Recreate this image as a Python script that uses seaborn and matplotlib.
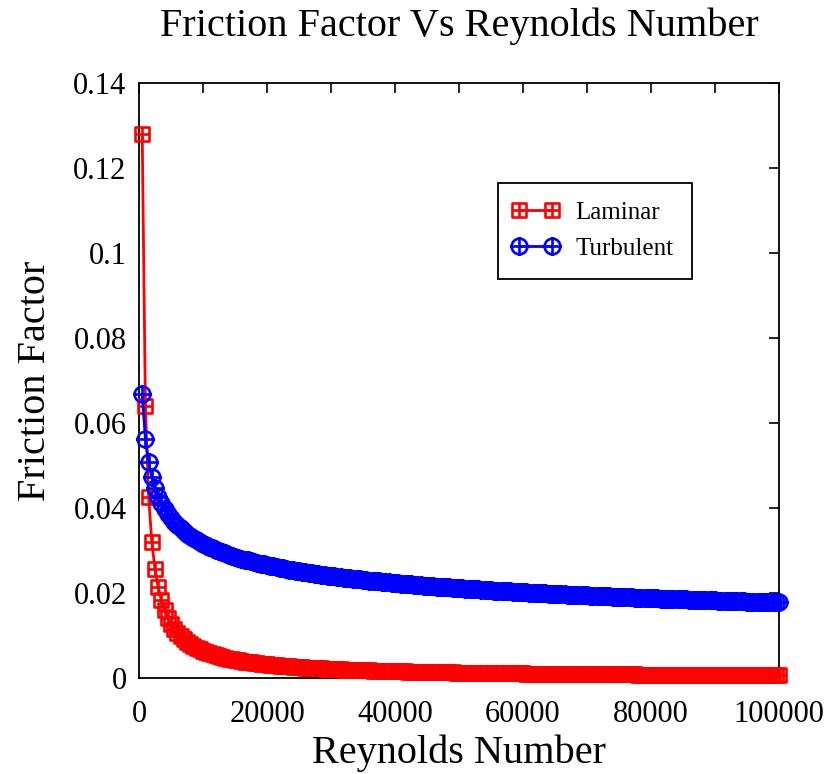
import numpy as np
import pandas as pd
import matplotlib
matplotlib.use("Agg")
import matplotlib.pyplot as plt
import seaborn as sns
from matplotlib.path import Path
from matplotlib.lines import Line2D
from matplotlib.legend_handler import HandlerLine2D

# ---- data ----
reynolds = list(range(500, 100001, 500))

laminar = [
    0.12800, 0.06400, 0.04267, 0.03200, 0.02560, 0.02133, 0.01829, 0.01600, 0.01422, 0.01280,
    0.01164, 0.01067, 0.00985, 0.00914, 0.00853, 0.00800, 0.00753, 0.00711, 0.00674, 0.00640,
    0.00610, 0.00582, 0.00557, 0.00533, 0.00512, 0.00492, 0.00474, 0.00457, 0.00441, 0.00427,
    0.00413, 0.00400, 0.00388, 0.00376, 0.00366, 0.00356, 0.00346, 0.00337, 0.00328, 0.00320,
    0.00312, 0.00305, 0.00298, 0.00291, 0.00284, 0.00278, 0.00272, 0.00267, 0.00261, 0.00256,
    0.00251, 0.00246, 0.00242, 0.00237, 0.00233, 0.00229, 0.00225, 0.00221, 0.00217, 0.00213,
    0.00210, 0.00206, 0.00203, 0.00200, 0.00197, 0.00194, 0.00191, 0.00188, 0.00186, 0.00183,
    0.00180, 0.00178, 0.00175, 0.00173, 0.00171, 0.00168, 0.00166, 0.00164, 0.00162, 0.00160,
    0.00158, 0.00156, 0.00154, 0.00152, 0.00151, 0.00149, 0.00147, 0.00145, 0.00144, 0.00142,
    0.00141, 0.00139, 0.00138, 0.00136, 0.00135, 0.00133, 0.00132, 0.00131, 0.00129, 0.00128,
    0.00127, 0.00125, 0.00124, 0.00123, 0.00122, 0.00121, 0.00120, 0.00119, 0.00117, 0.00116,
    0.00115, 0.00114, 0.00113, 0.00112, 0.00111, 0.00110, 0.00109, 0.00108, 0.00108, 0.00107,
    0.00106, 0.00105, 0.00104, 0.00103, 0.00102, 0.00102, 0.00101, 0.00100, 0.00099, 0.00098,
    0.00098, 0.00097, 0.00096, 0.00096, 0.00095, 0.00094, 0.00093, 0.00093, 0.00092, 0.00091,
    0.00091, 0.00090, 0.00090, 0.00089, 0.00088, 0.00088, 0.00087, 0.00086, 0.00086, 0.00085,
    0.00085, 0.00084, 0.00084, 0.00083, 0.00083, 0.00082, 0.00082, 0.00081, 0.00081, 0.00080,
    0.00080, 0.00079, 0.00079, 0.00078, 0.00078, 0.00077, 0.00077, 0.00076, 0.00076, 0.00075,
    0.00075, 0.00074, 0.00074, 0.00074, 0.00073, 0.00073, 0.00072, 0.00072, 0.00072, 0.00071,
    0.00071, 0.00070, 0.00070, 0.00070, 0.00069, 0.00069, 0.00068, 0.00068, 0.00068, 0.00067,
    0.00067, 0.00067, 0.00066, 0.00066, 0.00066, 0.00065, 0.00065, 0.00065, 0.00064, 0.00064,
]

turbulent = [
    0.06683, 0.05619, 0.05078, 0.04725, 0.04469, 0.04270, 0.04108, 0.03974, 0.03858, 0.03758,
    0.03669, 0.03590, 0.03519, 0.03455, 0.03396, 0.03341, 0.03291, 0.03244, 0.03201, 0.03160,
    0.03122, 0.03086, 0.03052, 0.03019, 0.02989, 0.02959, 0.02932, 0.02905, 0.02880, 0.02855,
    0.02832, 0.02810, 0.02788, 0.02767, 0.02747, 0.02728, 0.02710, 0.02692, 0.02674, 0.02657,
    0.02641, 0.02625, 0.02610, 0.02595, 0.02580, 0.02566, 0.02552, 0.02539, 0.02526, 0.02513,
    0.02501, 0.02489, 0.02477, 0.02465, 0.02454, 0.02443, 0.02432, 0.02421, 0.02411, 0.02401,
    0.02391, 0.02381, 0.02372, 0.02363, 0.02354, 0.02345, 0.02336, 0.02327, 0.02319, 0.02310,
    0.02302, 0.02294, 0.02286, 0.02278, 0.02271, 0.02263, 0.02256, 0.02248, 0.02241, 0.02235,
    0.02228, 0.02221, 0.02214, 0.02208, 0.02201, 0.02195, 0.02189, 0.02182, 0.02176, 0.02170,
    0.02164, 0.02158, 0.02152, 0.02147, 0.02141, 0.02135, 0.02130, 0.02124, 0.02119, 0.02113,
    0.02108, 0.02103, 0.02098, 0.02093, 0.02088, 0.02083, 0.02078, 0.02073, 0.02068, 0.02064,
    0.02059, 0.02055, 0.02050, 0.02046, 0.02041, 0.02037, 0.02032, 0.02028, 0.02024, 0.02019,
    0.02015, 0.02011, 0.02007, 0.02003, 0.01999, 0.01995, 0.01991, 0.01987, 0.01983, 0.01979,
    0.01975, 0.01972, 0.01968, 0.01964, 0.01961, 0.01957, 0.01953, 0.01950, 0.01946, 0.01943,
    0.01939, 0.01936, 0.01933, 0.01929, 0.01926, 0.01923, 0.01919, 0.01916, 0.01913, 0.01910,
    0.01906, 0.01903, 0.01900, 0.01897, 0.01894, 0.01891, 0.01888, 0.01885, 0.01882, 0.01879,
    0.01876, 0.01873, 0.01870, 0.01868, 0.01865, 0.01862, 0.01859, 0.01856, 0.01853, 0.01851,
    0.01848, 0.01845, 0.01843, 0.01840, 0.01838, 0.01835, 0.01832, 0.01830, 0.01827, 0.01824,
    0.01822, 0.01819, 0.01817, 0.01815, 0.01812, 0.01810, 0.01807, 0.01805, 0.01802, 0.01800,
    0.01798, 0.01795, 0.01793, 0.01791, 0.01789, 0.01786, 0.01784, 0.01782, 0.01779, 0.01777,
]

series_names = ["Laminar", "Turbulent"]
x_ticks = [0, 10000, 20000, 30000, 40000, 50000, 60000, 70000, 80000, 90000, 100000]
x_ticklabels = ["0", "", "20000", "", "40000", "", "60000", "", "80000", "", "100000"]
y_ticks = [0, 0.02, 0.04, 0.06, 0.08, 0.1, 0.12, 0.14]
y_ticklabels = ["0", "0.02", "0.04", "0.06", "0.08", "0.1", "0.12", "0.14"]
title = "Friction Factor Vs Reynolds Number"
xlabel = "Reynolds Number"
ylabel = "Friction Factor"

# ---- style ----
sns.set_style("white")
plt.rcParams["font.family"] = ["Liberation Serif", "DejaVu Serif"]
for k in ["text.color", "axes.labelcolor", "xtick.color", "ytick.color"]:
    plt.rcParams[k] = "black"

# custom markers: square with cross, circle with cross
sq = Path(
    [(-1, -1), (1, -1), (1, 1), (-1, 1), (-1, -1), (0, -1), (0, 1), (-1, 0), (1, 0)],
    [Path.MOVETO, Path.LINETO, Path.LINETO, Path.LINETO, Path.CLOSEPOLY,
     Path.MOVETO, Path.LINETO, Path.MOVETO, Path.LINETO],
)
circ = Path.unit_circle()
cverts = list(circ.vertices) + [(0, -1.15), (0, 1.15), (-1.15, 0), (1.15, 0)]
ccodes = list(circ.codes) + [Path.MOVETO, Path.LINETO, Path.MOVETO, Path.LINETO]
circplus = Path(cverts, ccodes)

df = pd.DataFrame({"Re": reynolds, series_names[0]: laminar, series_names[1]: turbulent})

fig = plt.figure(figsize=(8.25, 7.74), dpi=100)
ax = fig.add_axes([0.1685, 0.124, 0.7757, 0.7688])

sns.lineplot(data=df, x="Re", y=series_names[0], ax=ax, color="#ff0000", lw=2,
             marker=sq, markersize=10.5, markerfacecolor="none",
             markeredgecolor="#ff0000", markeredgewidth=1.9,
             label=series_names[0], clip_on=False, zorder=3)
sns.lineplot(data=df, x="Re", y=series_names[1], ax=ax, color="#0000ff", lw=2,
             marker=circplus, markersize=13, markerfacecolor="none",
             markeredgecolor="#0000ff", markeredgewidth=1.9,
             label=series_names[1], clip_on=False, zorder=4)

ax.set_xlim(0, 100000)
ax.set_ylim(0, 0.14)
ax.set_xticks(x_ticks)
ax.set_xticklabels(x_ticklabels)
ax.set_yticks(y_ticks)
ax.set_yticklabels(y_ticklabels)
ax.tick_params(axis="both", which="major", direction="in", length=7, width=1.2,
               labelsize=22, top=True, right=True, color="black")
ax.tick_params(axis="x", pad=16)
ax.tick_params(axis="y", pad=9)
for s in ax.spines.values():
    s.set_visible(True)
    s.set_color("black")
    s.set_linewidth(1.3)

ax.set_xlabel(xlabel, fontsize=29, labelpad=4)
ax.set_ylabel(ylabel, fontsize=29, labelpad=14)
ax.set_title(title, fontsize=29, pad=34)

leg = ax.legend(loc="upper left", bbox_to_anchor=(0.561, 0.832), fontsize=18,
                frameon=True, fancybox=False, edgecolor="black", framealpha=1,
                handler_map={Line2D: HandlerLine2D(marker_pad=0.1, numpoints=2)},
                handlelength=1.5, borderpad=0.75, labelspacing=0.54,
                handletextpad=0.85, borderaxespad=0)
leg.get_frame().set_linewidth(1.3)

fig.savefig("out.png", dpi=100)
